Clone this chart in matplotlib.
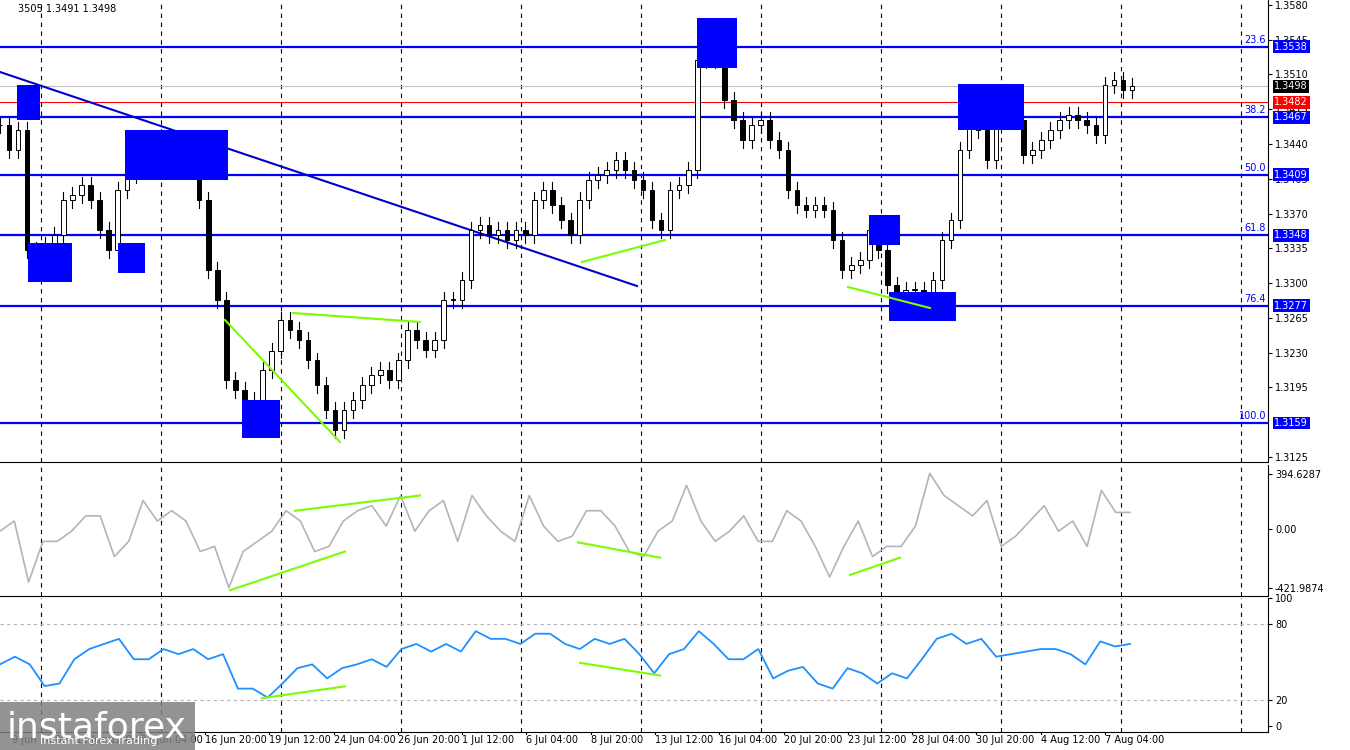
import matplotlib
matplotlib.use("Agg")
import matplotlib.pyplot as plt
from matplotlib.patches import Rectangle
import numpy as np

closes = [1.3459,1.3434,1.3454,1.3333,1.3333,1.3338,1.3348,1.3384,1.3389,1.3399,1.3384,1.3353,1.3333,1.3394,1.3409,1.3444,1.3434,1.3424,1.3419,1.3414,1.3429,1.3414,1.3384,1.3313,
          1.3283,1.3202,1.3192,1.3172,1.3182,1.3212,1.3232,1.3263,1.3253,1.3243,1.3222,1.3197,1.3172,1.3152,1.3172,1.3182,1.3197,1.3207,1.3212,1.3202,1.3222,1.3253,1.3243,1.3233,
          1.3243,1.3283,1.3283,1.3303,1.3353,1.3358,1.3348,1.3353,1.3343,1.3353,1.3348,1.3384,1.3394,1.3379,1.3363,1.3348,1.3384,1.3404,1.3409,1.3414,1.3424,1.3414,
          1.3404,1.3394,1.3363,1.3353,1.3394,1.3399,1.3414,1.3525,1.3535,1.3525,1.3484,1.3464,1.3444,1.3459,1.3464,1.3444,1.3434,1.3394,1.3379,1.3374,
          1.3379,1.3374,1.3343,1.3313,1.3318,1.3323,1.3353,1.3333,1.3298,1.3288,1.3293,1.3293,1.3288,1.3303,1.3343,1.3363,1.3434,1.3464,1.3454,1.3424,
          1.3474,1.3484,1.3464,1.3429,1.3434,1.3444,1.3454,1.3464,1.3469,1.3464,1.3459,1.3449,1.3499,1.3504,1.3494,1.3498]
cci = [-15,58,-380,-88,-88,-15,95,95,-197,-88,205,58,132,58,-161,-124,-420,-161,-88,-15,132,58,-161,-124,58,132,168,22,241,-15,132,205,-88,241,95,
       -15,-88,241,22,-88,-51,132,132,22,-161,-197,-15,58,314,58,-88,-15,95,-88,-88,132,58,-124,-344,-124,58,-197,-124,-124,22,400,241,168,95,205,
       -124,-51,58,168,-15,58,-124,278,120,120]
rsi = [48,54,48,31,33,52,60,64,68,52,52,60,56,60,52,56,29,29,22,33,45,48,37,45,48,52,46,60,64,58,64,58,74,68,68,64,72,72,64,60,68,64,68,
       56,41,56,60,74,64,52,52,60,37,43,46,33,29,45,41,33,41,37,52,68,72,64,68,54,56,58,60,60,56,48,66,62,64]
fib_levels = [1.3538,1.3467,1.3409,1.3348,1.3277,1.3159]
fib_names = ["23.6","38.2","50.0","61.8","76.4","100.0"]
price_ticks = [1.3580,1.3545,1.3510,1.3475,1.3440,1.3405,1.3370,1.3335,1.3300,1.3265,1.3230,1.3195,1.3125]
xlabels = ["9 Jun 20:00","11 Jun 12:00","12 Jun 04:00","16 Jun 20:00","19 Jun 12:00","24 Jun 04:00","26 Jun 20:00","1 Jul 12:00",
           "6 Jul 04:00","8 Jul 20:00","13 Jul 12:00","16 Jul 04:00","20 Jul 20:00","23 Jul 12:00","28 Jul 04:00","30 Jul 20:00",
           "4 Aug 12:00","7 Aug 04:00"]

W, H = 1350, 750
fig = plt.figure(figsize=(13.5, 7.5), dpi=100)
AX_R = 1268
def axrect(top, bot):
    return [0, 1-bot/H, AX_R/W, (bot-top)/H]
ax = fig.add_axes(axrect(0, 462))
axc = fig.add_axes(axrect(465, 596))
axr = fig.add_axes(axrect(598, 732))

N = len(closes)
ppx = 1132/(N-1)
def X(px): return px/ppx
def P(py): return 1.3585 - py*0.0001007

ax.set_xlim(0, X(AX_R)); ax.set_ylim(P(462), P(0))
opens = [closes[0]] + closes[:-1]
for i,(o,c) in enumerate(zip(opens, closes)):
    hi, lo = max(o,c)+0.0008, min(o,c)-0.0008
    ax.plot([i,i],[lo,hi], color="black", lw=0.8, zorder=3)
    ax.add_patch(Rectangle((i-0.25, min(o,c)), 0.5, max(abs(c-o),0.00005),
                 facecolor="white" if c>=o else "black", edgecolor="black", lw=0.7, zorder=4))

for lv, nm in zip(fib_levels, fib_names):
    ax.axhline(lv, color="#0000ff", lw=1.6, zorder=2)
    ax.text(X(1266), lv+0.0002, nm, color="#0000ff", fontsize=7, ha="right", va="bottom")
ax.axhline(1.3498, color="#c0c0c0", lw=0.8)
ax.axhline(1.3482, color="red", lw=0.8)

ax.plot([X(0), X(637)], [P(72), P(286)], color="#0000cd", lw=1.5, zorder=2)
for (x0,x1,y0,y1) in [(17,40,85,120),(28,72,243,282),(118,145,243,273),(125,228,130,180),(242,280,400,438),
                      (697,737,18,68),(869,900,215,245),(889,956,292,321),(958,1024,84,130)]:
    ax.add_patch(Rectangle((X(x0), P(y1)), X(x1)-X(x0), P(y0)-P(y1), facecolor="#0000ff", edgecolor="none", zorder=5))
for (a,b,c,d) in [(225,320,340,442),(293,313,420,322),(582,262,665,240),(848,287,930,308)]:
    ax.plot([X(a),X(c)],[P(b),P(d)], color="#7cfc00", lw=1.5, zorder=6)

ax.yaxis.tick_right()
ax.set_yticks(price_ticks)
ax.set_yticklabels([f"{t:.4f}" for t in price_ticks], fontsize=7)
ax.text(2, P(4), "3505 1.3491 1.3498", fontsize=7, va="top")
for lv, col in [(1.3538,"#0000ff"),(1.3467,"#0000ff"),(1.3409,"#0000ff"),(1.3348,"#0000ff"),
                (1.3277,"#0000ff"),(1.3159,"#0000ff"),(1.3498,"black"),(1.3482,"red")]:
    ax.text(1.005, lv, f"{lv:.4f}", transform=ax.get_yaxis_transform(), fontsize=7, color="white", va="center", ha="left",
            bbox=dict(boxstyle="square,pad=0.15", fc=col, ec="none"), clip_on=False)

nc = len(cci)
cpx = 1130/(nc-1)
axc.set_xlim(0, AX_R/cpx); axc.set_ylim(-480, 460)
axc.plot(range(nc), cci, color="#b4b4b4", lw=1.2)
def CX(px): return px/cpx
def CY(py): return (528-py)*7.31
for (a,b,c,d) in [(230,588,345,550),(295,510,420,495),(578,541,660,556),(850,573,900,556)]:
    axc.plot([CX(a),CX(c)],[CY(b),CY(d)], color="#7cfc00", lw=1.5)
axc.yaxis.tick_right()
axc.set_yticks([394.6287,0,-421.9874]); axc.set_yticklabels(["394.6287","0.00","-421.9874"], fontsize=7)

nr = len(rsi)
rpx = 1130/(nr-1)
axr.set_xlim(0, AX_R/rpx); axr.set_ylim(-5, 100)
axr.plot(range(nr), rsi, color="#1e90ff", lw=1.3)
for lv in (80, 20):
    axr.axhline(lv, color="#b4b4b4", lw=0.8, ls=(0,(3,3)))
def RX(px): return px/rpx
def RY(py): return (728-py)/1.3
for (a,b,c,d) in [(262,700,345,688),(580,664,660,677)]:
    axr.plot([RX(a),RX(c)],[RY(b),RY(d)], color="#7cfc00", lw=1.5)
axr.yaxis.tick_right()
axr.set_yticks([100,80,20,0]); axr.set_yticklabels(["100","80","20","0"], fontsize=7)

for a, conv in [(ax, X), (axc, CX), (axr, RX)]:
    for px in np.arange(41, 1268, 120):
        a.axvline(conv(px), color="black", lw=0.8, ls=(0,(4,4)), zorder=1)
    a.set_xticks([])
    a.spines["top"].set_visible(False)
    a.spines["left"].set_visible(False)
    a.tick_params(axis="y", length=3, pad=2)

for k, lab in enumerate(xlabels):
    px = 12 + 64.3*k
    axr.text(RX(px), -0.02, lab, transform=axr.get_xaxis_transform(), fontsize=7, ha="left", va="top")
    axr.plot([RX(px)]*2, [0.0, -0.015], transform=axr.get_xaxis_transform(), color="black", lw=0.8, clip_on=False)

fig.text(0.005, 0.03, "instaforex", fontsize=26, color="white", va="center",
         bbox=dict(fc="#808080", ec="none", alpha=0.85, pad=6))
fig.text(0.03, 0.008, "Instant Forex Trading", fontsize=8, color="white")
fig.savefig("out.png", dpi=100)
